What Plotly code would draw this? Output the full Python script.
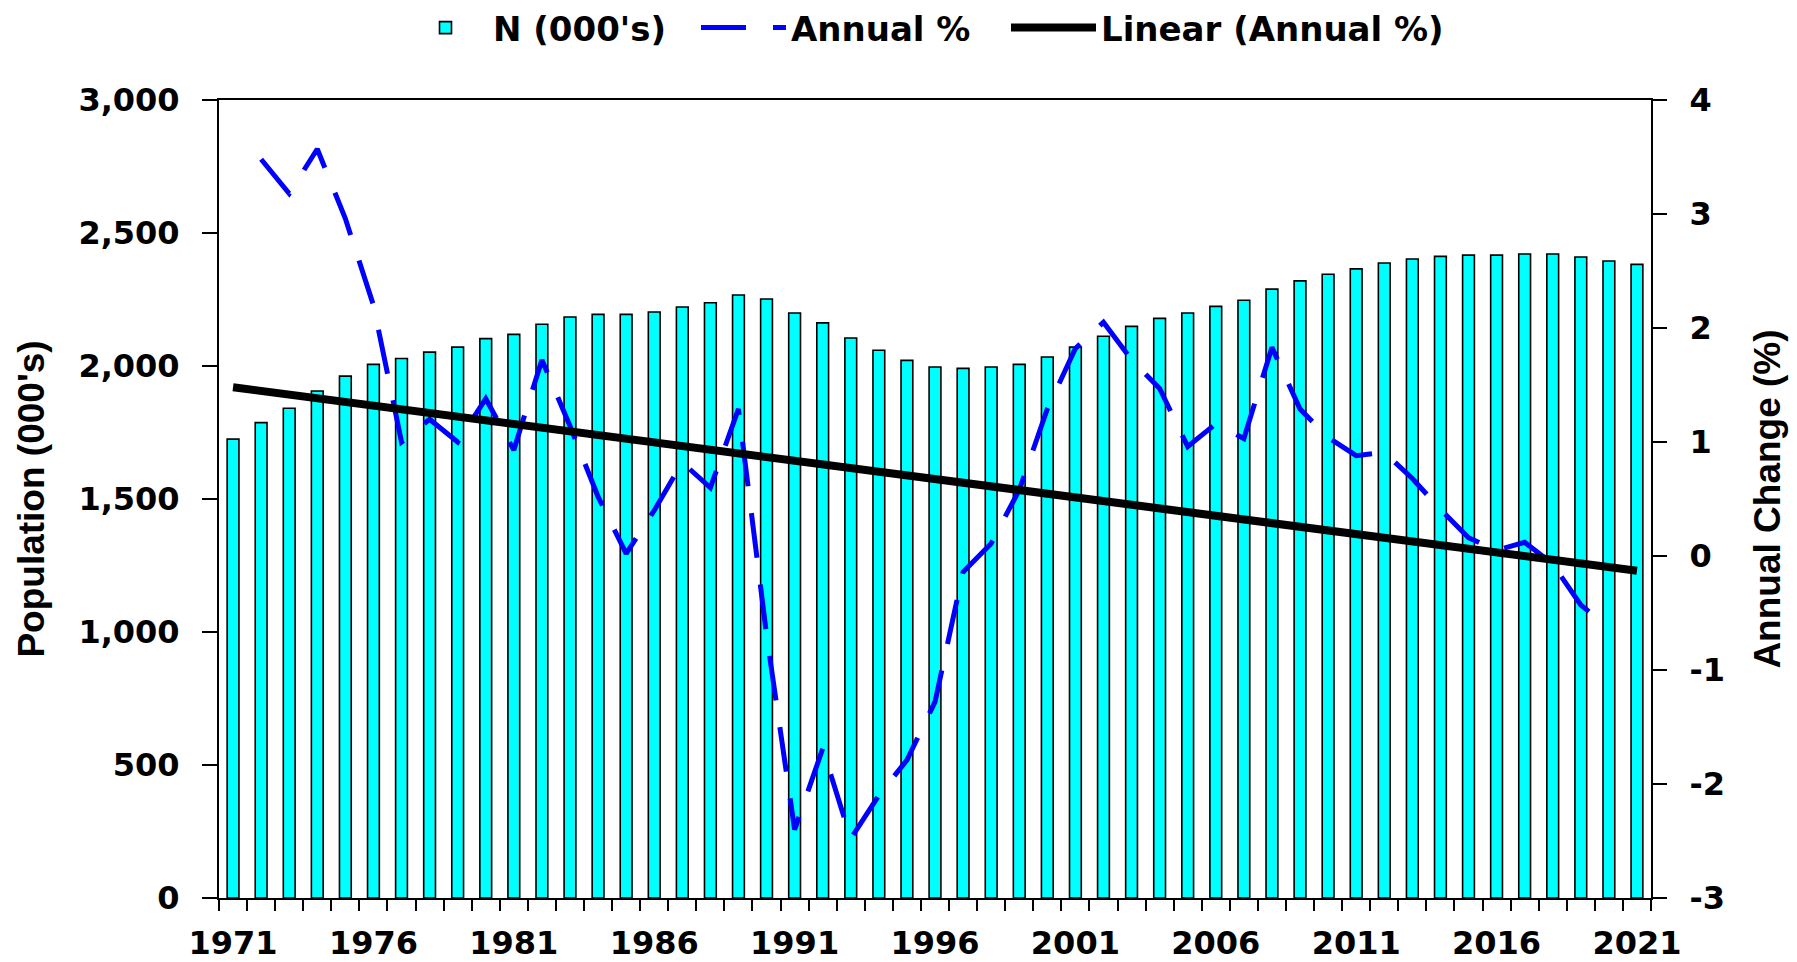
import plotly.graph_objects as go

# ---- data ----
years = list(range(1971, 2022))
population = [1725, 1787, 1841, 1906, 1962, 2006, 2028, 2052, 2071, 2103,
              2119, 2157, 2184, 2194, 2194, 2203, 2222, 2238, 2267, 2252,
              2199, 2162, 2105, 2059, 2021, 1996, 1991, 1996, 2006, 2034,
              2071, 2112, 2149, 2179, 2199, 2224, 2247, 2289, 2320, 2345,
              2365, 2387, 2402, 2412, 2417, 2417, 2421, 2421, 2410, 2395,
              2382]

pct_years = list(range(1972, 2021))
annual_pct = [3.48, 3.18, 3.57, 2.96, 2.20, 1.00, 1.20, 1.00, 1.38, 0.93,
              1.72, 1.14, 0.52, 0.02, 0.40, 0.82, 0.60, 1.29, -0.69, -2.40,
              -1.69, -2.48, -2.10, -1.79, -1.28, -0.14, 0.11, 0.58, 1.29, 1.82,
              2.05, 1.72, 1.47, 0.96, 1.16, 1.03, 1.83, 1.29, 1.04, 0.88,
              0.91, 0.68, 0.41, 0.16, 0.05, 0.12, -0.07, -0.43, -0.63]

trend_years = [1971, 2021]
trend_values = [1.48, -0.13]

label_years = [1971, 1976, 1981, 1986, 1991, 1996, 2001, 2006, 2011, 2016, 2021]
pop_ticks = [0, 500, 1000, 1500, 2000, 2500, 3000]
pct_ticks = [-3, -2, -1, 0, 1, 2, 3, 4]
pct_ticktext = ["-3", "-2", "-1", "0", "1", "2", "3", "4"]

boundaries = [y - 0.5 for y in years] + [years[-1] + 0.5]
xrange_ = [years[0] - 0.5, years[-1] + 0.5]

TICKFONT = dict(family="DejaVu Sans", size=32, color="black", weight="bold")
TITLEFONT = dict(family="Liberation Sans, Arial, sans-serif", size=37,
                 color="black", weight="bold")

fig = go.Figure()
fig.add_trace(go.Bar(
    x=years, y=population, name="N (000's)", yaxis="y", xaxis="x",
    width=0.42, legendwidth=198,
    marker=dict(color="#00FFFF", line=dict(color="black", width=1.6)),
))
fig.add_trace(go.Scatter(
    x=pct_years, y=annual_pct, name="Annual %", mode="lines", yaxis="y2",
    legendwidth=210,
    line=dict(color="#0000FF", width=5, dash="45px,27px"),
))
fig.add_trace(go.Scatter(
    x=trend_years, y=trend_values, name="Linear (Annual %)", mode="lines", yaxis="y2",
    line=dict(color="black", width=8),
))

common_axis = dict(showgrid=False, zeroline=False, tickcolor="black", tickwidth=2)

fig.update_layout(
    width=1797, height=962,
    margin=dict(l=219, r=146, t=100, b=64, pad=0, autoexpand=False),
    paper_bgcolor="white", plot_bgcolor="white",
    bargap=0.58,
    font=dict(family="DejaVu Sans", color="black"),
    showlegend=True,
    legend=dict(orientation="h", x=0.125, xanchor="left", y=1.0902, yanchor="middle",
                font=dict(family="DejaVu Sans", size=34, color="black", weight="bold"),
                itemwidth=85, bgcolor="rgba(0,0,0,0)", traceorder="normal"),
    xaxis=dict(
        range=xrange_, tickmode="array", tickvals=label_years,
        ticktext=[str(y) for y in label_years], ticks="",
        minor=dict(tickmode="array", tickvals=boundaries, ticks="outside", ticklen=11,
                   tickwidth=2, tickcolor="black", showgrid=False),
        showline=True, linecolor="black", linewidth=2, mirror=True,
        tickfont=dict(family="DejaVu Sans", size=32, color="black", weight="bold"),
        ticklabelstandoff=16, automargin=False,
        showgrid=False, zeroline=False,
    ),
    xaxis2=dict(
        overlaying="x", anchor="y", range=xrange_, tickmode="array", tickvals=boundaries,
        ticks="inside", ticklen=13, showticklabels=False, showline=False, **common_axis,
    ),
    yaxis=dict(
        range=[0, 3000], tickmode="array", tickvals=pop_ticks, tickformat=",d",
        ticks="outside", ticklen=15, showline=True, linecolor="black", linewidth=2,
        tickfont=TICKFONT, ticklabelstandoff=16, automargin=False,
        title=dict(text="Population (000's)", font=TITLEFONT, standoff=22),
        **common_axis,
    ),
    yaxis2=dict(
        overlaying="y", side="right", anchor="x", range=[-3, 4], tickmode="array",
        tickvals=pct_ticks, ticktext=pct_ticktext,
        ticks="outside", ticklen=14, showline=True, linecolor="black", linewidth=2,
        tickfont=TICKFONT, ticklabelstandoff=16, automargin=False,
        title=dict(text="Annual Change (%)", font=TITLEFONT, standoff=30),
        **common_axis,
    ),
    yaxis3=dict(
        overlaying="y", side="left", anchor="x", range=[0, 3000], tickmode="array",
        tickvals=pop_ticks, ticks="inside", ticklen=15, showticklabels=False,
        showline=False, **common_axis,
    ),
    yaxis4=dict(
        overlaying="y", side="right", anchor="x", range=[-3, 4], tickmode="array",
        tickvals=pct_ticks, ticks="inside", ticklen=14, showticklabels=False,
        showline=False, **common_axis,
    ),
)

fig.write_html("out.html", config={"displayModeBar": False},
               post_script="document.body.style.margin='0';document.body.style.overflow='hidden';")
